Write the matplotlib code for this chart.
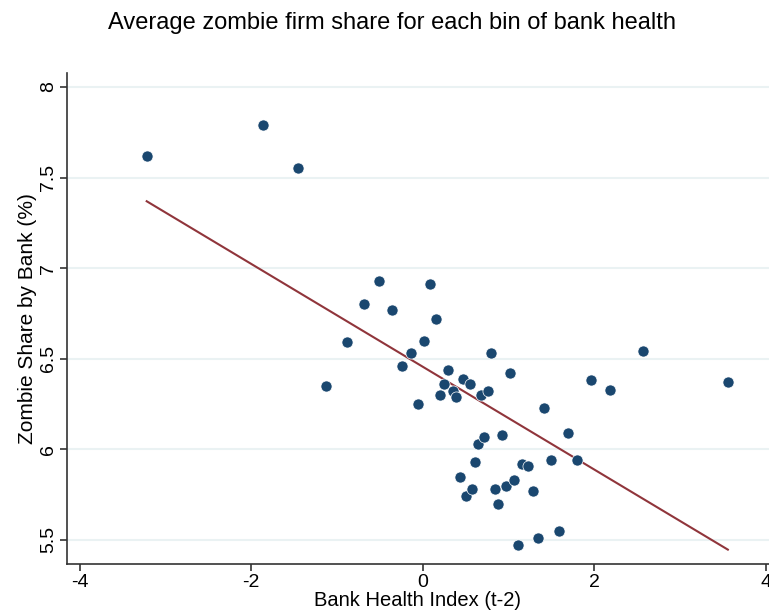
import matplotlib
matplotlib.use("Agg")
import matplotlib.pyplot as plt
import numpy as np

plt.rcParams['font.family'] = ['Liberation Sans', 'DejaVu Sans']

bank_health = [-3.22, -1.86, -1.45, -1.13, -0.88, -0.68, -0.51, -0.36, -0.24, -0.14,
               -0.06, 0.01, 0.08, 0.15, 0.20, 0.25, 0.30, 0.35, 0.39, 0.43,
               0.47, 0.51, 0.55, 0.58, 0.61, 0.65, 0.68, 0.72, 0.76, 0.80,
               0.84, 0.88, 0.93, 0.97, 1.02, 1.07, 1.11, 1.16, 1.23, 1.29,
               1.35, 1.41, 1.50, 1.585, 1.69, 1.80, 1.96, 2.18, 2.57, 3.56]
zombie_share = [7.62, 7.79, 7.55, 6.35, 6.59, 6.80, 6.93, 6.77, 6.46, 6.53,
                6.25, 6.60, 6.91, 6.72, 6.30, 6.36, 6.44, 6.32, 6.29, 5.85,
                6.39, 5.74, 6.36, 5.78, 5.93, 6.03, 6.30, 6.07, 6.32, 6.53,
                5.78, 5.70, 6.08, 5.80, 6.42, 5.83, 5.47, 5.92, 5.91, 5.77,
                5.51, 6.23, 5.94, 5.55, 6.09, 5.94, 6.38, 6.33, 6.54, 6.37]
# fitted line (estimated on underlying data)
fit_intercept = 6.456
fit_slope = -0.2836
x_ticks = [-4, -2, 0, 2, 4]
y_ticks = [5.5, 6, 6.5, 7, 7.5, 8]
y_tick_labels = ['5.5', '6', '6.5', '7', '7.5', '8']

x = np.array(bank_health)
y = np.array(zombie_share)
fx = np.array([x.min(), x.max()])
fy = fit_slope * fx + fit_intercept

fig = plt.figure(figsize=(7.69, 6.15), dpi=100)
ax = fig.add_axes([0.0871, 0.0829, 0.9129, 0.7984])

for yt in y_ticks:
    ax.axhline(yt, color='#eaf2f3', lw=1.5, zorder=0)

ax.scatter(x, y, s=64, color='#1a476f', edgecolors='white', linewidths=0.5, zorder=3)
ax.plot(fx, fy, color='#90353b', lw=1.5, zorder=2)

ax.set_xlim(-4.15, 4.04)
ax.set_ylim(5.367, 8.077)
ax.set_xticks(x_ticks)
ax.set_xticklabels([str(t) for t in x_ticks])
ax.set_yticks(y_ticks)
ax.set_yticklabels(y_tick_labels, rotation=90, va='center')

for s in ['top', 'right']:
    ax.spines[s].set_visible(False)
for s in ['left', 'bottom']:
    ax.spines[s].set_color('#333333')
    ax.spines[s].set_linewidth(1.2)
ax.tick_params(axis='both', direction='out', length=5, width=1.2, color='#333333',
               labelsize=14, labelcolor='black', pad=2)

ax.set_xlabel('Bank Health Index (t-2)', fontsize=14.5, labelpad=0)
ax.set_ylabel('Zombie Share by Bank (%)', fontsize=15, labelpad=2)

fig.text(0.51, 0.962, 'Average zombie firm share for each bin of bank health',
         ha='center', va='center', fontsize=17)

fig.savefig('out.png', dpi=100)
